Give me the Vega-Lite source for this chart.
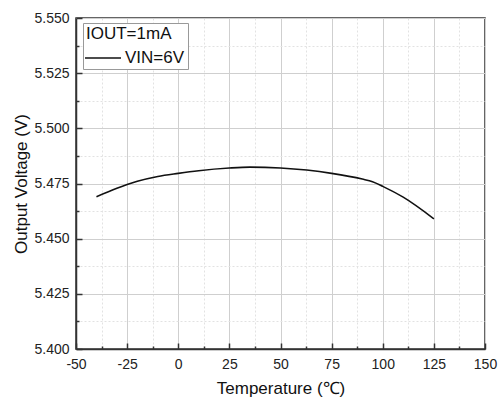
{
  "$schema": "https://vega.github.io/schema/vega-lite/v6.json",
  "width": 409,
  "height": 331,
  "autosize": {"type": "none"},
  "padding": {"left": 76, "top": 18, "right": 18, "bottom": 52},
  "background": "white",
  "config": {
    "font": "Liberation Sans",
    "view": {"stroke": "#333", "strokeWidth": 1.5}
  },
  "data": {
    "values": [
      {"t": -40, "v": 5.4690, "s": "VIN=6V"},
      {"t": -30, "v": 5.4728, "s": "VIN=6V"},
      {"t": -25, "v": 5.4745, "s": "VIN=6V"},
      {"t": -20, "v": 5.4760, "s": "VIN=6V"},
      {"t": -10, "v": 5.4782, "s": "VIN=6V"},
      {"t": 0, "v": 5.4796, "s": "VIN=6V"},
      {"t": 10, "v": 5.4808, "s": "VIN=6V"},
      {"t": 25, "v": 5.4820, "s": "VIN=6V"},
      {"t": 35, "v": 5.4824, "s": "VIN=6V"},
      {"t": 50, "v": 5.4820, "s": "VIN=6V"},
      {"t": 75, "v": 5.4796, "s": "VIN=6V"},
      {"t": 90, "v": 5.4770, "s": "VIN=6V"},
      {"t": 95, "v": 5.4758, "s": "VIN=6V"},
      {"t": 100, "v": 5.4737, "s": "VIN=6V"},
      {"t": 110, "v": 5.4688, "s": "VIN=6V"},
      {"t": 125, "v": 5.4590, "s": "VIN=6V"}
    ]
  },
  "mark": {"type": "line", "strokeWidth": 1.6, "interpolate": "monotone"},
  "encoding": {
    "x": {
      "field": "t",
      "type": "quantitative",
      "scale": {"domain": [-50, 150], "nice": false, "zero": false},
      "axis": {
        "title": "Temperature (℃)",
        "titleFontSize": 17,
        "titleFontWeight": "normal",
        "titleColor": "#111",
        "titlePadding": 6,
        "values": [-50, -37.5, -25, -12.5, 0, 12.5, 25, 37.5, 50, 62.5, 75, 87.5, 100, 112.5, 125, 137.5, 150],
        "labelExpr": "abs(datum.value % 25) > 0.01 ? '' : replace(datum.label, '−', '-')",
        "labelOverlap": false,
        "labelFontSize": 14,
        "labelColor": "#222",
        "labelPadding": 14,
        "labelFlush": false,
        "domainColor": "#333",
        "domainWidth": 1.5,
        "tickColor": "#333",
        "tickWidth": 1.5,
        "tickSize": {"condition": {"test": "abs(datum.value % 25) > 0.01", "value": -3}, "value": -6},
        "gridColor": {"condition": {"test": "abs(datum.value % 25) > 0.01", "value": "#e2e2e2"}, "value": "#cfcfcf"},
        "gridDash": {"condition": {"test": "abs(datum.value % 25) > 0.01", "value": [2, 2]}, "value": []},
        "gridWidth": 1
      }
    },
    "y": {
      "field": "v",
      "type": "quantitative",
      "scale": {"domain": [5.4, 5.55], "nice": false, "zero": false},
      "axis": {
        "title": "Output Voltage (V)",
        "titleFontSize": 17,
        "titleFontWeight": "normal",
        "titleColor": "#111",
        "titlePadding": 3,
        "values": [5.4, 5.4125, 5.425, 5.4375, 5.45, 5.4625, 5.475, 5.4875, 5.5, 5.5125, 5.525, 5.5375, 5.55],
        "format": ".3f",
        "labelExpr": "abs(round(datum.value * 40) - datum.value * 40) > 0.1 ? '' : datum.label",
        "labelOverlap": false,
        "labelFontSize": 14,
        "labelColor": "#222",
        "labelPadding": 13,
        "labelFlush": false,
        "domainColor": "#333",
        "domainWidth": 1.5,
        "tickColor": "#333",
        "tickWidth": 1.5,
        "tickSize": {"condition": {"test": "abs(round(datum.value * 40) - datum.value * 40) > 0.1", "value": -3}, "value": -6},
        "gridColor": {"condition": {"test": "abs(round(datum.value * 40) - datum.value * 40) > 0.1", "value": "#e2e2e2"}, "value": "#cfcfcf"},
        "gridDash": {"condition": {"test": "abs(round(datum.value * 40) - datum.value * 40) > 0.1", "value": [2, 2]}, "value": []},
        "gridWidth": 1
      }
    },
    "color": {
      "field": "s",
      "type": "nominal",
      "scale": {"range": ["#111"]},
      "legend": {
        "title": "IOUT=1mA",
        "orient": "none",
        "legendX": 7,
        "legendY": 5,
        "titleFontSize": 17,
        "titleFontWeight": "normal",
        "titleColor": "#111",
        "titlePadding": 5,
        "labelFontSize": 17,
        "labelColor": "#111",
        "labelOffset": 12,
        "symbolOffset": 7,
        "symbolType": "M-2,0H2",
        "symbolSize": 324,
        "symbolStrokeWidth": 1.6,
        "strokeColor": "#999",
        "fillColor": "white",
        "padding": 3
      }
    }
  }
}
